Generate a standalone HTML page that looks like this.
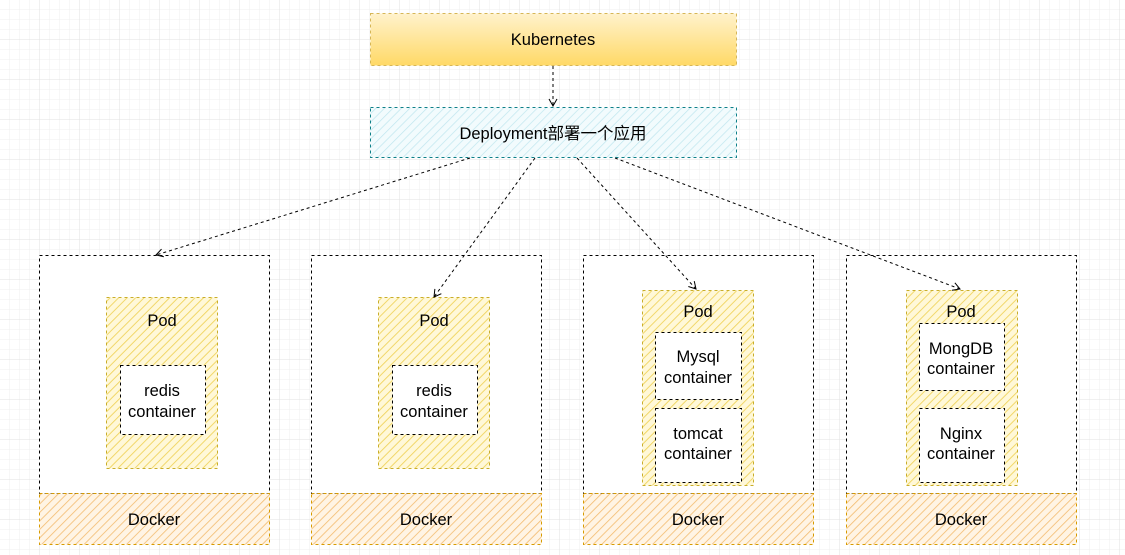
<!DOCTYPE html>
<html><head><meta charset="utf-8"><style>
body{margin:0;background:#fff}
svg{display:block}
text{font-family:"Liberation Sans","Noto Sans CJK SC",sans-serif;font-size:16.5px;fill:#000;text-anchor:middle}
</style></head><body>
<svg width="1125" height="555" viewBox="0 0 1125 555" xmlns="http://www.w3.org/2000/svg">
<defs>
<pattern id="g" width="10" height="10" patternUnits="userSpaceOnUse"><path d="M10 0V10H0" fill="none" stroke="#efefef" stroke-width="1"/></pattern>
<pattern id="g4" width="40" height="40" patternUnits="userSpaceOnUse"><path d="M40 0V40H0" fill="none" stroke="#e2e2e2" stroke-width="1"/></pattern>
<pattern id="hy" width="6" height="6" patternUnits="userSpaceOnUse" patternTransform="rotate(45)"><rect width="6" height="6" fill="#fff8d8"/><line x1="0" y1="0" x2="0" y2="6" stroke="#f0d45e" stroke-width="1.8"/></pattern>
<pattern id="hb" width="6" height="6" patternUnits="userSpaceOnUse" patternTransform="rotate(45)"><rect width="6" height="6" fill="#f2fbfd"/><line x1="0" y1="0" x2="0" y2="6" stroke="#bfe6ee" stroke-width="1.4"/></pattern>
<pattern id="ho" width="6" height="6" patternUnits="userSpaceOnUse" patternTransform="rotate(45)"><rect width="6" height="6" fill="#fff4e4"/><line x1="0" y1="0" x2="0" y2="6" stroke="#f3bb6e" stroke-width="1.6"/></pattern>
<linearGradient id="kg" x1="0" y1="0" x2="0" y2="1"><stop offset="0" stop-color="#fff2cc"/><stop offset="1" stop-color="#ffd966"/></linearGradient>
<marker id="a" markerWidth="10" markerHeight="10" refX="8" refY="5" orient="auto" markerUnits="userSpaceOnUse"><path d="M1 1L8 5L1 9" fill="none" stroke="#000" stroke-width="1"/></marker>
</defs>
<rect width="1125" height="555" fill="url(#g)"/>
<rect width="1125" height="555" fill="url(#g4)"/>
<rect x="370.5" y="13.5" width="366" height="52" fill="url(#kg)" stroke="#d6b656" stroke-dasharray="3 3"/>
<text x="553" y="45">Kubernetes</text>
<rect x="370.5" y="107.5" width="366" height="50" fill="url(#hb)" stroke="#0e8088" stroke-dasharray="3 3"/>
<text x="553" y="139">Deployment部署一个应用</text>
<g stroke-dasharray="3 3">
<rect x="39.5" y="255.5" width="230" height="238" fill="#fff" stroke="#000"/>
<rect x="311.5" y="255.5" width="230" height="238" fill="#fff" stroke="#000"/>
<rect x="583.5" y="255.5" width="230" height="238" fill="#fff" stroke="#000"/>
<rect x="846.5" y="255.5" width="230" height="238" fill="#fff" stroke="#000"/>
<rect x="39.5" y="493.5" width="230" height="51" fill="url(#ho)" stroke="#d79b00"/>
<rect x="311.5" y="493.5" width="230" height="51" fill="url(#ho)" stroke="#d79b00"/>
<rect x="583.5" y="493.5" width="230" height="51" fill="url(#ho)" stroke="#d79b00"/>
<rect x="846.5" y="493.5" width="230" height="51" fill="url(#ho)" stroke="#d79b00"/>
<rect x="106.5" y="297.5" width="111" height="171" fill="url(#hy)" stroke="#c9ae2a"/>
<rect x="378.5" y="297.5" width="111" height="171" fill="url(#hy)" stroke="#c9ae2a"/>
<rect x="642.5" y="290.5" width="111" height="195" fill="url(#hy)" stroke="#c9ae2a"/>
<rect x="906.5" y="290.5" width="111" height="195" fill="url(#hy)" stroke="#c9ae2a"/>
<g fill="#fff" stroke="#000">
<rect x="120.5" y="365.5" width="85" height="69"/>
<rect x="392.5" y="365.5" width="85" height="69"/>
<rect x="655.5" y="332.5" width="86" height="67"/>
<rect x="655.5" y="408.5" width="86" height="74"/>
<rect x="919.5" y="323.5" width="85" height="67"/>
<rect x="919.5" y="408.5" width="85" height="74"/>
</g>
</g>
<g fill="none" stroke="#000" stroke-dasharray="3 3" marker-end="url(#a)">
<line x1="553" y1="66" x2="553" y2="106"/>
<line x1="470" y1="158" x2="156" y2="255"/>
<line x1="535" y1="158" x2="434" y2="297"/>
<line x1="577" y1="158" x2="696" y2="289"/>
<line x1="615" y1="158" x2="960" y2="289"/>
</g>
<text x="154" y="525">Docker</text><text x="426" y="525">Docker</text><text x="698" y="525">Docker</text><text x="961" y="525">Docker</text>
<text x="162" y="326">Pod</text><text x="434" y="326">Pod</text><text x="698" y="317">Pod</text><text x="961" y="317">Pod</text>
<text x="162" y="396">redis</text><text x="162" y="417">container</text>
<text x="434" y="396">redis</text><text x="434" y="417">container</text>
<text x="698" y="362">Mysql</text><text x="698" y="383">container</text>
<text x="698" y="439">tomcat</text><text x="698" y="459">container</text>
<text x="961" y="354">MongDB</text><text x="961" y="374">container</text>
<text x="961" y="439">Nginx</text><text x="961" y="459">container</text>
</svg>
</body></html>
